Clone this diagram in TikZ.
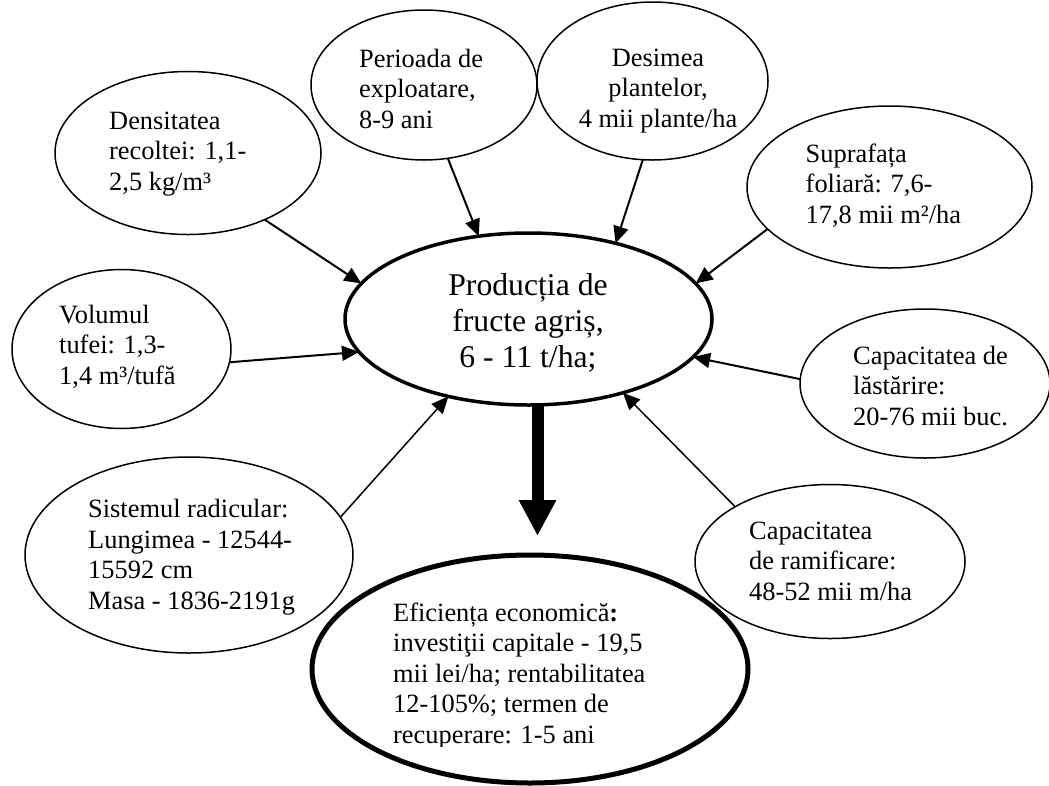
\documentclass[tikz,border=0pt]{standalone}
\usepackage{fontspec}
\setmainfont{Liberation Serif}
\usetikzlibrary{arrows.meta,shapes.geometric}

\tikzset{
  bubble/.style={draw, ellipse, line width=1.5pt, inner sep=0pt, outer sep=0pt},
  hub/.style={bubble, line width=3.5pt},
  result/.style={bubble, line width=5pt},
  % labels are placed by the baseline of their last line
  lbl/.style={anchor=base west, align=left, inner sep=0pt,
              font=\fontsize{26.4}{30.5}\selectfont},
  feed/.style={-{Triangle[length=17pt,width=15pt]}, line width=2pt},
  feedthin/.style={feed, line width=1.5pt},
  bigarrow/.style={-{Triangle[length=36pt,width=35pt]}, line width=12pt},
}

\begin{document}
\begin{tikzpicture}[x=1pt, y=-1pt]
  \useasboundingbox (0,0) rectangle (1049,785);

  % outer factors
  \node[bubble, minimum width=266pt, minimum height=163pt] (dens) at (188,153) {};
  \node[bubble, minimum width=226pt, minimum height=150pt] (per)  at (424,85) {};
  \node[bubble, minimum width=231pt, minimum height=158pt] (des)  at (652.5,81) {};
  \node[bubble, minimum width=285pt, minimum height=162pt] (sup)  at (889.5,187) {};
  \node[bubble, minimum width=219pt, minimum height=159pt] (vol)  at (121.5,349) {};
  \node[bubble, minimum width=328pt, minimum height=196pt] (rad)  at (189,555) {};
  \node[bubble, minimum width=250pt, minimum height=149pt] (las)  at (925,383.5) {};
  \node[bubble, minimum width=270pt, minimum height=154pt] (ram)  at (830,561.5) {};

  % central yield and economic result
  \node[hub, minimum width=367pt, minimum height=172pt] (prod) at (528.5,319) {};
  \node[result, minimum width=436pt, minimum height=228pt] (ef) at (530,669) {};

  % labels
  \node[lbl] (densT) at (109,190) {Densitatea\\recoltei: 1,1-\\2,5 kg/m³};
  \node[lbl] (perT) at (359,128) {Perioada de\\exploatare,\\8-9 ani};
  \node[lbl, anchor=base, align=center] (desT) at (658,127) {Desimea\\plantelor,\\4 mii plante/ha};
  \node[lbl] (supT) at (805.5,223) {Suprafața\\foliară: 7,6-\\17,8 mii m²/ha};
  \node[lbl] (volT) at (59,384) {Volumul\\tufei: 1,3-\\1,4 m³/tufă};
  \node[lbl] (radT) at (88,609) {Sistemul radicular:\\Lungimea - 12544-\\15592 cm\\Masa - 1836-2191g};
  \node[lbl] (lasT) at (853,425) {Capacitatea de\\lăstărire:\\20-76 mii buc.};
  \node[lbl] (ramT) at (749,600) {Capacitatea\\de ramificare:\\48-52 mii m/ha};
  \node[lbl, anchor=base, align=center, font=\fontsize{31.7}{36}\selectfont] (prodT)
    at (528,367) {Producția de\\fructe agriș,\\6 - 11 t/ha;};
  \begin{scope}
    \clip (300,560) rectangle (760,746);
    \node[lbl] (efT) at (393,743) {Eficiența economică{\bfseries :}\\investiţii capitale - 19,5\\mii lei/ha; rentabilitatea\\12-105\%; termen de\\recuperare: 1-5 ani};
  \end{scope}

  % influences on the yield
  \draw[feed] (dens.-41.4) -- (prod.168.3);
  \draw[feed] (per.-72.3) -- (prod.121.2);
  \draw[feed] (des.263.2) -- (prod.41.1);
  \draw[feed] (sup.199.9) -- (prod.12.1);
  \draw[feed] (vol.-7.8) -- (prod.191.2);
  \draw[feedthin] (rad.14.1) -- (prod.224.5);
  \draw[feed] (las.178.4) -- (prod.347.1);
  \draw[feedthin] (ram.150.6) -- (prod.322.3);

  % yield leads to economic efficiency
  \coordinate (efTip) at (537.5,536);
  \draw[bigarrow] (prod.-84) -- (prod.-84 |- efTip);
\end{tikzpicture}
\end{document}
